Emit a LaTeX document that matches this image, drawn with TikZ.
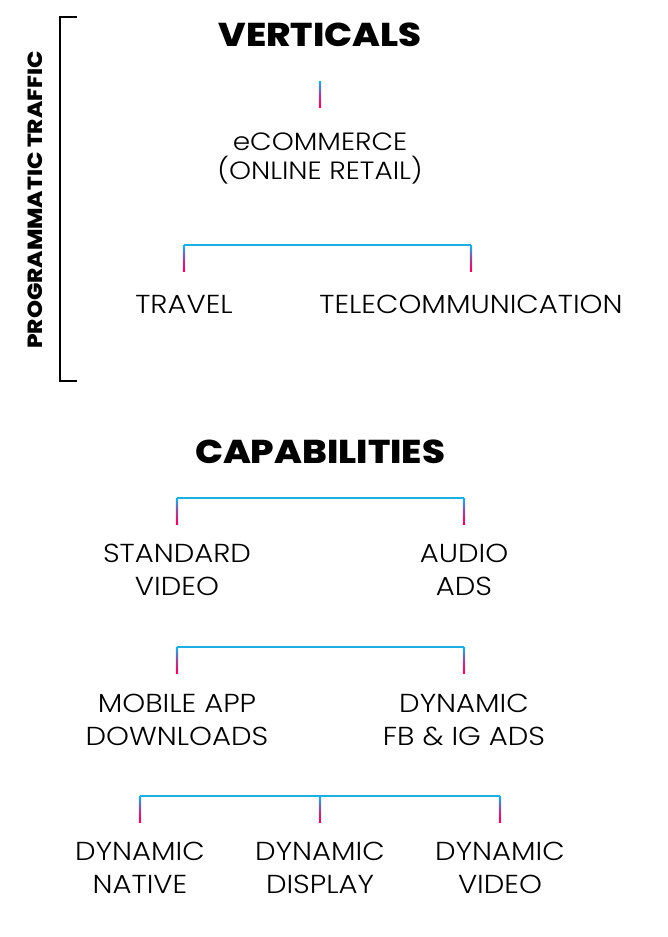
\documentclass[tikz,border=0pt]{standalone}
\usepackage{fontspec}
\setmainfont{Poppins}[UprightFont=*-Light, BoldFont=*-ExtraBold, FakeStretch=1.12]
\usetikzlibrary{calc}
\definecolor{barcyan}{RGB}{27,176,227}
\definecolor{barpink}{RGB}{228,8,98}
\newcommand{\stub}[1] % top end of the stub, a named coordinate
{
	% fade from cyan into pink
	\shade[top color=barcyan, bottom color=barpink, middle color=barcyan!40!barpink]
		($(#1)+(-1.1,0)$) rectangle ($(#1)+(1.1,26)$);
}
\tikzset{
	head/.style={font=\bfseries\fontsize{33}{36}\selectfont, inner sep=0pt},
	item/.style={font=\fontsize{26}{33}\selectfont, align=center, inner sep=0pt},
	bar/.style={draw=barcyan, line width=2pt}
}

\begin{document}
\begin{tikzpicture}[x=1pt, y=-1pt]
	% 667 x 937, one unit per pixel
	\useasboundingbox (0,0) rectangle (667,937);
	
	% side bracket
	\node[font=\bfseries\fontsize{20.5}{24}\selectfont, rotate=90, inner sep=0pt] (prog) at (35,200) {PROGRAMMATIC TRAFFIC};
	\draw[line width=2pt] (77,17) -- (60,17) -- (60,381) -- (77,381);
	
	% verticals
	\node[head] (verticals) at (320,35) {VERTICALS};
	\node[item, font=\fontsize{25}{29}\selectfont] (ecom) at (320,158) {eCOMMERCE\\(ONLINE RETAIL)};
	\node[item] (travel) at (184,304) {TRAVEL};
	\node[item] (tele) at (471,304) {TELECOMMUNICATION};
	\coordinate (top) at (320,81);
	\coordinate (b1) at (0,245);
	\stub{top};
	\draw[bar] (travel |- b1) -- (tele |- b1);
	\stub{travel |- b1};
	\stub{tele |- b1};
	
	% capabilities
	\node[head] (capab) at (320,452) {CAPABILITIES};
	\node[item] (std) at (177,570) {STANDARD\\VIDEO};
	\node[item] (audio) at (464,570) {AUDIO\\ADS};
	\node[item] (mobile) at (177,720) {MOBILE APP\\DOWNLOADS};
	\node[item] (fbig) at (464,720) {DYNAMIC\\FB \& IG ADS};
	\node[item] (native) at (140,868) {DYNAMIC\\NATIVE};
	\node[item] (display) at (320,868) {DYNAMIC\\DISPLAY};
	\node[item] (video) at (500,868) {DYNAMIC\\VIDEO};
	\coordinate (b2) at (0,498);
	\coordinate (b3) at (0,647);
	\coordinate (b4) at (0,796);
	\draw[bar] (std |- b2) -- (audio |- b2);
	\stub{std |- b2};
	\stub{audio |- b2};
	\draw[bar] (mobile |- b3) -- (fbig |- b3);
	\stub{mobile |- b3};
	\stub{fbig |- b3};
	\draw[bar] (native |- b4) -- (video |- b4);
	\stub{native |- b4};
	\stub{display |- b4};
	\stub{video |- b4};
\end{tikzpicture}
\end{document}
